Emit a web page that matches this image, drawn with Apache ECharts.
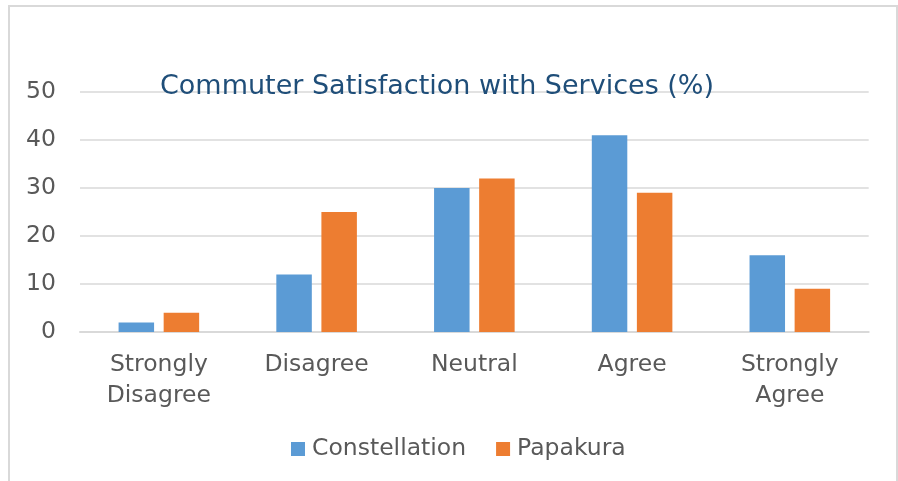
<!DOCTYPE html>
<html>
<head>
<meta charset="utf-8">
<script src="https://cdn.jsdelivr.net/npm/echarts@6/dist/echarts.min.js"></script>
<style>
html,body{margin:0;padding:0;background:#fff;}
#chart{width:898px;height:481px;}
</style>
</head>
<body>
<div id="chart"></div>
<script>
const categories = ['Strongly\nDisagree', 'Disagree', 'Neutral', 'Agree', 'Strongly\nAgree'];
const constellation = [2, 12, 30, 41, 16];
const papakura = [4, 25, 32, 29, 9];
const yTicks = [0, 10, 20, 30, 40, 50];

const FONT = 'DejaVu Sans';
const chart = echarts.init(document.getElementById('chart'));
chart.setOption({
  animation: false,
  textStyle: { fontFamily: FONT },
  graphic: [{
    type: 'rect', z: -1,
    shape: { x: 9, y: 6, width: 888, height: 500 },
    style: { fill: '#fff', stroke: '#d9d9d9', lineWidth: 2 }
  }],
  title: {
    text: 'Commuter Satisfaction with Services (%)',
    left: 432, top: 68, textAlign: 'center',
    textStyle: { fontFamily: FONT, fontSize: 27, fontWeight: 'normal', color: '#1f4e79' }
  },
  legend: {
    bottom: 15, left: 286,
    itemWidth: 14, itemHeight: 14, itemGap: 30,
    icon: 'rect',
    textStyle: { fontFamily: FONT, fontSize: 23.5, color: '#595959', padding: [0, 0, 0, 2] },
    data: ['Constellation', 'Papakura']
  },
  grid: { left: 80, right: 29.3, top: 92, bottom: 149, containLabel: false },
  xAxis: {
    type: 'category', data: categories,
    axisLine: { lineStyle: { color: '#d9d9d9', width: 2 } },
    axisTick: { show: false },
    axisLabel: { fontFamily: FONT, fontSize: 23.5, color: '#595959', lineHeight: 31, margin: 17, interval: 0 }
  },
  yAxis: {
    type: 'value', min: yTicks[0], max: yTicks[yTicks.length - 1], interval: 10,
    axisLine: { show: false }, axisTick: { show: false },
    splitLine: { lineStyle: { color: '#d9d9d9', width: 1.5 } },
    axisLabel: { fontFamily: FONT, fontSize: 23.5, color: '#595959', margin: 24 }
  },
  series: [
    { name: 'Constellation', type: 'bar', data: constellation, itemStyle: { color: '#5b9bd5' }, barWidth: '22.5%', barGap: '27%' },
    { name: 'Papakura', type: 'bar', data: papakura, itemStyle: { color: '#ed7d31' }, barWidth: '22.5%', barGap: '27%' }
  ]
});
</script>
</body>
</html>
